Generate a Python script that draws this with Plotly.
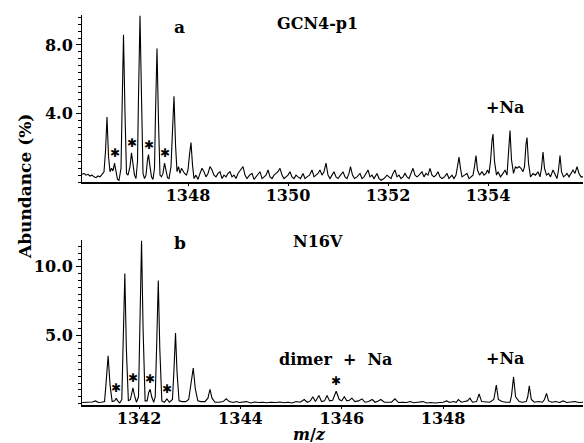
import plotly.graph_objects as go
from plotly.subplots import make_subplots

# ---------------- data ----------------
# Panel a: GCN4-p1 spectrum profile (m/z, abundance %)
a_mz = [1345.88, 1345.92, 1345.96, 1346.00, 1346.04, 1346.08, 1346.12, 1346.16, 1346.20, 1346.24,
        1346.28, 1346.32, 1346.35, 1346.38, 1346.41, 1346.44, 1346.47, 1346.50, 1346.53, 1346.56,
        1346.59, 1346.62, 1346.66, 1346.68, 1346.71, 1346.74, 1346.77, 1346.80, 1346.84, 1346.87,
        1346.90, 1346.93, 1346.96, 1346.99, 1347.01, 1347.04, 1347.07, 1347.10, 1347.13, 1347.16,
        1347.19, 1347.21, 1347.24, 1347.27, 1347.30, 1347.33, 1347.35, 1347.38, 1347.41, 1347.44,
        1347.47, 1347.50, 1347.53, 1347.56, 1347.59, 1347.62, 1347.66, 1347.69, 1347.72, 1347.75,
        1347.78, 1347.81, 1347.84, 1347.87, 1347.90, 1347.93, 1347.97, 1348.00, 1348.03, 1348.06,
        1348.09, 1348.12, 1348.16, 1348.20, 1348.24, 1348.28, 1348.32, 1348.36, 1348.40, 1348.44,
        1348.48, 1348.52, 1348.56, 1348.60, 1348.64, 1348.68, 1348.72, 1348.76, 1348.80, 1348.84,
        1348.88, 1348.92, 1348.96, 1349.00, 1349.05, 1349.10, 1349.14, 1349.18, 1349.23, 1349.28,
        1349.32, 1349.36, 1349.40, 1349.44, 1349.48, 1349.52, 1349.56, 1349.60, 1349.64, 1349.68,
        1349.72, 1349.76, 1349.80, 1349.84, 1349.88, 1349.92, 1349.96, 1350.00, 1350.04, 1350.08,
        1350.12, 1350.16, 1350.20, 1350.25, 1350.30, 1350.34, 1350.38, 1350.43, 1350.48, 1350.52,
        1350.56, 1350.60, 1350.64, 1350.68, 1350.72, 1350.76, 1350.80, 1350.84, 1350.88, 1350.92,
        1350.96, 1351.00, 1351.05, 1351.10, 1351.14, 1351.18, 1351.22, 1351.25, 1351.29, 1351.33,
        1351.38, 1351.44, 1351.48, 1351.52, 1351.56, 1351.60, 1351.64, 1351.68, 1351.72, 1351.78,
        1351.82, 1351.86, 1351.92, 1351.98, 1352.02, 1352.06, 1352.10, 1352.14, 1352.18, 1352.22,
        1352.26, 1352.30, 1352.34, 1352.38, 1352.42, 1352.46, 1352.50, 1352.54, 1352.58, 1352.62,
        1352.68, 1352.72, 1352.76, 1352.80, 1352.84, 1352.88, 1352.92, 1352.96, 1353.00, 1353.04,
        1353.08, 1353.13, 1353.18, 1353.22, 1353.28, 1353.32, 1353.36, 1353.39, 1353.42, 1353.45,
        1353.48, 1353.53, 1353.58, 1353.62, 1353.66, 1353.70, 1353.73, 1353.76, 1353.79, 1353.83,
        1353.88, 1353.92, 1353.96, 1353.99, 1354.02, 1354.05, 1354.08, 1354.10, 1354.13, 1354.17,
        1354.20, 1354.25, 1354.30, 1354.34, 1354.38, 1354.41, 1354.44, 1354.47, 1354.51, 1354.55,
        1354.58, 1354.62, 1354.66, 1354.70, 1354.73, 1354.76, 1354.78, 1354.81, 1354.85, 1354.90,
        1354.95, 1355.00, 1355.04, 1355.07, 1355.10, 1355.13, 1355.17, 1355.21, 1355.25, 1355.30,
        1355.34, 1355.38, 1355.41, 1355.44, 1355.47, 1355.51, 1355.55, 1355.58, 1355.62, 1355.66,
        1355.70, 1355.74, 1355.78, 1355.82, 1355.86, 1355.90]
a_ab = [0.45, 0.5, 0.4, 0.45, 0.35, 0.4, 0.3, 0.25, 0.35, 0.3,
        0.45, 0.6, 1.8, 3.8, 1.5, 0.6, 0.8, 0.65, 1.1, 0.7,
        0.15, 0.1, 0.8, 4.0, 8.6, 4.0, 0.5, 0.4, 0.9, 1.7,
        1.0, 0.4, 0.2, 1.2, 5.0, 9.7, 5.0, 0.5, 0.2, 0.4,
        1.3, 1.6, 0.9, 0.3, 0.15, 0.8, 4.0, 7.8, 3.5, 0.4,
        0.3, 0.5, 1.1, 0.6, 0.25, 0.2, 0.9, 3.0, 5.0, 2.2,
        0.6, 0.9, 0.5, 0.8, 0.6, 0.5, 0.4, 0.7, 1.6, 2.3,
        1.0, 0.2, 0.4, 0.15, 0.5, 0.8, 0.6, 0.3, 0.5, 0.9,
        0.7, 0.4, 0.3, 0.5, 0.6, 0.2, 0.4, 0.3, 0.5, 0.6,
        0.3, 0.4, 0.2, 0.5, 0.7, 0.9, 0.4, 0.2, 0.4, 0.5,
        0.15, 0.3, 0.4, 0.6, 0.2, 0.3, 0.4, 0.7, 0.3, 0.2,
        0.4, 0.5, 0.6, 0.8, 0.4, 0.2, 0.3, 0.4, 0.6, 0.3,
        0.2, 0.4, 0.3, 0.2, 0.5, 0.2, 0.3, 0.4, 0.7, 0.3,
        0.4, 0.5, 0.7, 0.4, 0.6, 1.1, 0.4, 0.2, 0.4, 0.6,
        0.3, 0.2, 0.4, 0.6, 0.3, 0.2, 0.5, 0.9, 0.4, 0.2,
        0.3, 0.5, 0.2, 0.3, 0.5, 0.7, 0.3, 0.4, 0.2, 0.5,
        0.2, 0.1, 0.2, 0.4, 0.3, 0.2, 0.5, 0.7, 0.3, 0.4,
        0.2, 0.3, 0.5, 0.3, 0.2, 0.5, 0.8, 0.4, 0.3, 0.4,
        0.6, 0.3, 0.5, 0.4, 0.8, 0.4, 0.3, 0.4, 0.6, 0.3,
        0.2, 0.3, 0.5, 0.2, 0.4, 0.2, 0.4, 0.9, 1.45, 0.8,
        0.3, 0.4, 0.5, 0.2, 0.3, 0.4, 0.9, 1.55, 0.7, 0.4,
        0.6, 0.4, 0.5, 0.7, 0.5, 1.2, 2.4, 2.8, 1.2, 0.4,
        0.6, 0.3, 0.5, 0.7, 0.4, 1.5, 3.0, 1.3, 0.5, 0.9,
        0.8, 0.9, 0.8, 0.6, 0.9, 2.2, 2.6, 1.1, 0.3, 0.5,
        0.4, 0.6, 0.3, 0.8, 1.75, 0.8, 0.4, 0.5, 0.3, 0.7,
        0.4, 0.2, 0.7, 1.55, 0.6, 0.3, 0.4, 0.5, 0.3, 0.5,
        0.7, 0.5, 0.9, 0.5, 0.3, 0.3]

# Panel b: N16V spectrum profile
b_mz = [1340.88, 1340.95, 1341.02, 1341.08, 1341.14, 1341.20, 1341.26, 1341.32, 1341.35, 1341.39,
        1341.43, 1341.47, 1341.52, 1341.55, 1341.58, 1341.62, 1341.66, 1341.69, 1341.72, 1341.75,
        1341.79, 1341.83, 1341.86, 1341.88, 1341.91, 1341.95, 1341.99, 1342.02, 1342.05, 1342.08,
        1342.12, 1342.16, 1342.19, 1342.22, 1342.25, 1342.29, 1342.32, 1342.35, 1342.38, 1342.41,
        1342.45, 1342.50, 1342.55, 1342.60, 1342.66, 1342.69, 1342.72, 1342.75, 1342.79, 1342.85,
        1342.92, 1342.98, 1343.03, 1343.07, 1343.11, 1343.16, 1343.22, 1343.30, 1343.36, 1343.40,
        1343.44, 1343.50, 1343.58, 1343.66, 1343.72, 1343.78, 1343.86, 1343.92, 1343.98, 1344.06,
        1344.12, 1344.20, 1344.28, 1344.36, 1344.44, 1344.52, 1344.60, 1344.70, 1344.78, 1344.86,
        1344.94, 1345.02, 1345.10, 1345.18, 1345.26, 1345.32, 1345.38, 1345.43, 1345.48, 1345.55,
        1345.60, 1345.66, 1345.71, 1345.76, 1345.82, 1345.89, 1345.95, 1346.00, 1346.05, 1346.10,
        1346.15, 1346.20, 1346.26, 1346.33, 1346.40, 1346.46, 1346.53, 1346.60, 1346.66, 1346.72,
        1346.77, 1346.84, 1346.90, 1346.98, 1347.05, 1347.12, 1347.20, 1347.28, 1347.35, 1347.42,
        1347.50, 1347.60, 1347.68, 1347.76, 1347.84, 1347.92, 1348.00, 1348.07, 1348.13, 1348.20,
        1348.26, 1348.30, 1348.36, 1348.42, 1348.48, 1348.53, 1348.58, 1348.66, 1348.71, 1348.76,
        1348.84, 1348.92, 1349.00, 1349.05, 1349.09, 1349.16, 1349.24, 1349.32, 1349.35, 1349.39,
        1349.43, 1349.50, 1349.56, 1349.64, 1349.67, 1349.70, 1349.74, 1349.80, 1349.88, 1349.96,
        1350.00, 1350.04, 1350.08, 1350.15, 1350.22, 1350.30, 1350.37, 1350.44, 1350.52, 1350.60,
        1350.68, 1350.76]
b_ab = [0.08, 0.1, 0.08, 0.12, 0.2, 0.08, 0.1, 0.15, 1.5, 3.5,
        1.3, 0.15, 0.2, 0.4, 0.2, 0.05, 0.3, 4.5, 9.5, 4.0,
        0.2, 0.3, 0.9, 1.15, 0.6, 0.1, 0.5, 6.0, 11.9, 5.5,
        0.2, 0.2, 0.8, 1.05, 0.5, 0.1, 0.5, 4.5, 9.0, 4.0,
        0.2, 0.1, 0.35, 0.1, 0.3, 2.5, 5.15, 2.3, 0.2, 0.15,
        0.15, 0.3, 1.4, 2.6, 1.1, 0.2, 0.15, 0.15, 0.4, 1.05,
        0.4, 0.1, 0.1, 0.15, 0.35, 0.15, 0.08, 0.15, 0.08, 0.1,
        0.15, 0.05, 0.12, 0.08, 0.1, 0.06, 0.1, 0.08, 0.12, 0.06,
        0.1, 0.05, 0.15, 0.1, 0.3, 0.1, 0.2, 0.5, 0.15, 0.6,
        0.15, 0.2, 0.6, 0.2, 0.25, 0.9, 0.3, 0.2, 0.5, 0.2,
        0.25, 0.4, 0.15, 0.2, 0.35, 0.1, 0.15, 0.3, 0.1, 0.2,
        0.3, 0.1, 0.08, 0.1, 0.35, 0.08, 0.1, 0.08, 0.15, 0.06,
        0.1, 0.15, 0.05, 0.08, 0.05, 0.1, 0.1, 0.2, 0.08, 0.15,
        0.1, 0.3, 0.1, 0.15, 0.2, 0.4, 0.1, 0.15, 0.7, 0.15,
        0.1, 0.1, 0.3, 1.35, 0.3, 0.15, 0.1, 0.1, 0.6, 1.95,
        0.5, 0.15, 0.1, 0.15, 0.5, 1.3, 0.3, 0.1, 0.15, 0.1,
        0.3, 0.75, 0.2, 0.1, 0.15, 0.08, 0.2, 0.08, 0.12, 0.15,
        0.08, 0.1]

# asterisk-marked peaks
a_star_mz = [1346.53, 1346.87, 1347.21, 1347.53]
a_star_ab = [1.1, 1.7, 1.6, 1.1]
b_star_mz = [1341.55, 1341.88, 1342.22, 1342.55, 1345.89]
b_star_ab = [0.4, 1.15, 1.05, 0.35, 0.9]

a_ticks = [1348, 1350, 1352, 1354]
b_ticks = [1342, 1344, 1346, 1348]
a_yticks = [4.0, 8.0]
b_yticks = [5.0, 10.0]

# ---------------- figure ----------------
FONT = "DejaVu Serif"
fig = make_subplots(rows=2, cols=1)

fig.add_trace(go.Scatter(x=a_mz, y=a_ab, mode="lines",
                         line=dict(color="black", width=1.1), showlegend=False), row=1, col=1)
fig.add_trace(go.Scatter(x=b_mz, y=b_ab, mode="lines",
                         line=dict(color="black", width=1.1), showlegend=False), row=2, col=1)

xcommon = dict(showline=True, linecolor="black", linewidth=1.6, ticks="outside", ticklen=2,
               tickcolor="black", showgrid=False, zeroline=False, automargin=False,
               ticklabelstandoff=-4,
               tickfont=dict(family=FONT, size=16, color="black", weight="bold"))
ycommon = dict(showline=True, linecolor="black", linewidth=1, ticks="outside", ticklen=5,
               tickcolor="black", showgrid=False, zeroline=False, tickformat=".1f",
               automargin=False,
               tickfont=dict(family=FONT, size=16, color="black", weight="bold"))

fig.update_xaxes(xcommon, row=1, col=1, range=[1345.88, 1355.9], tickvals=a_ticks)
fig.update_xaxes(xcommon, row=2, col=1, range=[1340.875, 1350.76], tickvals=b_ticks)
fig.update_yaxes(ycommon, row=1, col=1, range=[0, 9.75], tickvals=a_yticks,
                 minor=dict(tick0=0, dtick=0.4, ticks="outside", ticklen=3, tickcolor="black",
                            showgrid=False))
fig.update_yaxes(ycommon, row=2, col=1, range=[-0.1, 11.95], tickvals=b_yticks,
                 minor=dict(tick0=0, dtick=0.5, ticks="outside", ticklen=3, tickcolor="black",
                            showgrid=False))

fig.update_layout(
    width=584, height=443,
    margin=dict(l=82, r=1, t=15, b=38, autoexpand=False),
    paper_bgcolor="white", plot_bgcolor="white",
    xaxis=dict(domain=[0, 1]), xaxis2=dict(domain=[0, 1]),
    yaxis=dict(domain=[0.5718, 1.0]), yaxis2=dict(domain=[0.0, 0.4231]),
)

ann = []
for mz, ab in zip(a_star_mz, a_star_ab):
    ann.append(dict(x=mz, y=ab, xref="x", yref="y", text="✱", showarrow=False, yshift=10,
                    xanchor="center", yanchor="middle",
                    font=dict(family="DejaVu Sans", size=12, color="black")))
for mz, ab in zip(b_star_mz, b_star_ab):
    ann.append(dict(x=mz, y=ab, xref="x2", yref="y2", text="✱", showarrow=False, yshift=10,
                    xanchor="center", yanchor="middle",
                    font=dict(family="DejaVu Sans", size=12, color="black")))

def label(text, x, y, size=16, angle=0):
    return dict(text=text, x=x, y=y, xref="paper", yref="paper", showarrow=False,
                xanchor="center", yanchor="middle", textangle=angle,
                font=dict(family=FONT, size=size, color="black", weight="bold"))

ann += [
    label("a", 0.1956, 0.9692, size=17),
    label("GCN4-p1", 0.471, 0.977),
    label("+Na", 0.8443, 0.7641),
    label("b", 0.1956, 0.4154, size=17),
    label("N16V", 0.471, 0.418),
    label("dimer&nbsp;&nbsp;+&nbsp;&nbsp;Na", 0.505, 0.1154),
    label("+Na", 0.8443, 0.118),
    label("<i>m</i>/<i>z</i>", 0.455, -0.0744, size=16),
    label("Abundance (%)", -0.1138, 0.5615, size=17, angle=-90),
]
fig.update_layout(annotations=ann)

fig.write_html("out.html", config={"displayModeBar": False},
               post_script="document.body.style.margin='0';document.body.style.padding='0';")
